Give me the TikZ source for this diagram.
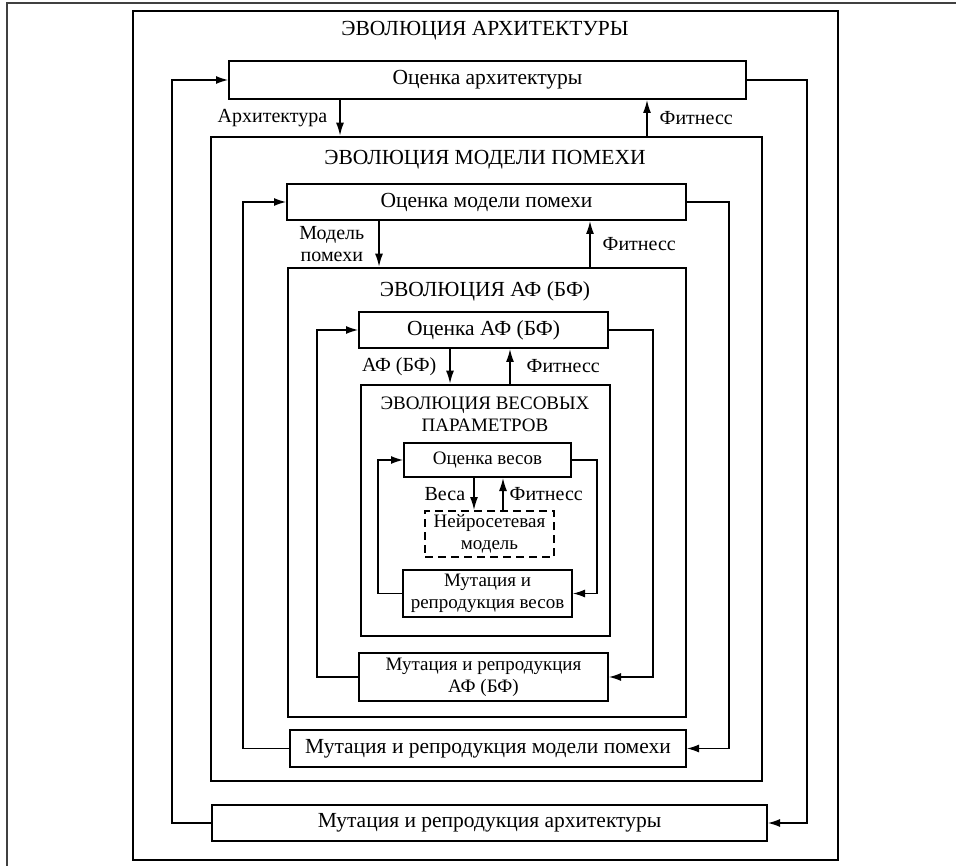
\documentclass[tikz,border=0pt]{standalone}
\usepackage{fontspec}
\setmainfont{Liberation Serif}
\usetikzlibrary{arrows.meta}
\begin{document}
\begin{tikzpicture}[x=1pt, y=-1pt,
    every node/.style={font=\fontsize{20}{22}\selectfont, inner sep=0pt, align=center},
    bigtext/.style={font=\fontsize{21.5}{23}\selectfont},
    smalltext/.style={font=\fontsize{19}{22}\selectfont},
    evobox/.style={draw, line width=2.8pt},
    stepbox/.style={draw, line width=2pt},
    nnbox/.style={draw, line width=2pt, dash pattern=on 8pt off 5pt},
    arr/.style={line width=1.4pt, -{Latex[length=13pt,width=8pt]}},
    back/.style={line width=1.2pt, -{Latex[length=12pt,width=8pt]}}]
    \useasboundingbox (0,0) rectangle (956,866);
    \draw[line width=1.7pt, black!75] (956,3) -- (7,3) -- (7,866);
    % containers
    \node[evobox, minimum width=705, minimum height=849] (evoarch) at (485.5,435.5) {};
    \node[evobox, minimum width=551, minimum height=644] (evonoise) at (486.5,459) {};
    \node[evobox, minimum width=398, minimum height=449] (evoaf) at (487,492.5) {};
    \node[evobox, minimum width=249, minimum height=251] (evow) at (485.5,510.5) {};
    \node[bigtext] (ttlarch) at (485,31) {ЭВОЛЮЦИЯ АРХИТЕКТУРЫ};
    \node[bigtext] (ttlnoise) at (485,160) {ЭВОЛЮЦИЯ МОДЕЛИ ПОМЕХИ};
    \node[bigtext] (ttlaf) at (485,291) {ЭВОЛЮЦИЯ АФ (БФ)};
    \node[smalltext] (ttlw) at (485,414) {ЭВОЛЮЦИЯ ВЕСОВЫХ\\ПАРАМЕТРОВ};
    % steps
    \node[stepbox, bigtext, minimum width=517, minimum height=38] (archeval) at (487.5,80) {Оценка архитектуры};
    \node[stepbox, bigtext, minimum width=555, minimum height=36] (archmut) at (489.5,823) {Мутация и репродукция архитектуры};
    \node[stepbox, bigtext, minimum width=399, minimum height=36] (noiseeval) at (486.5,202) {Оценка модели помехи};
    \node[stepbox, bigtext, minimum width=396, minimum height=37] (noisemut) at (488,748.5) {Мутация и репродукция модели помехи};
    \node[stepbox, bigtext, minimum width=249, minimum height=36] (afeval) at (483.5,330) {Оценка АФ (БФ)};
    \node[stepbox, smalltext, minimum width=249, minimum height=48] (afmut) at (483.5,677) {Мутация и репродукция\\АФ (БФ)};
    \node[stepbox, smalltext, minimum width=167, minimum height=34] (weval) at (487.5,460) {Оценка весов};
    \node[nnbox, smalltext, minimum width=129, minimum height=46] (nn) at (489.5,534) {Нейросетевая\\модель};
    \node[stepbox, smalltext, minimum width=169, minimum height=47] (wmut) at (487.5,593.5) {Мутация и\\репродукция весов};
    % data and fitness
    \draw[arr] (archeval.south -| 340,0) -- node[left=12pt] (lblarch) {Архитектура} (evonoise.north -| 340,0);
    \draw[arr] (evonoise.north -| 647,0) -- node[right=12pt] (fitarch) {Фитнесс} (archeval.south -| 647,0);
    \draw[arr] (noiseeval.south -| 379,0) -- node[left=14pt] (lblnoise) {Модель\\помехи} (evoaf.north -| 379,0);
    \draw[arr] (evoaf.north -| 590,0) -- node[right=12pt] (fitnoise) {Фитнесс} (noiseeval.south -| 590,0);
    \draw[arr] (afeval.south -| 450,0) -- node[left=13pt] (lblaf) {АФ (БФ)} (evow.north -| 450,0);
    \draw[arr] (evow.north -| 510,0) -- node[right=16pt] (fitaf) {Фитнесс} (afeval.south -| 510,0);
    \draw[arr] (weval.south -| 474,0) -- node[left=8pt] (lblw) {Веса} (nn.north -| 474,0);
    \draw[arr] (nn.north -| 503,0) -- node[right=6pt] (fitw) {Фитнесс} (weval.south -| 503,0);
    % loops
    \draw[back] (archmut.west) -- ++(-39,0) |- (archeval.west);
    \draw[back] (archeval.east) -- ++(60,0) |- (archmut.east);
    \draw[back] (noisemut.west) -- ++(-46,0) |- (noiseeval.west);
    \draw[back] (noiseeval.east) -- ++(42,0) |- (noisemut.east);
    \draw[back] (afmut.west) -- ++(-41,0) |- (afeval.west);
    \draw[back] (afeval.east) -- ++(44,0) |- (afmut.east);
    \draw[back] (wmut.west) -- ++(-24,0) |- (weval.west);
    \draw[back] (weval.east) -- ++(25,0) |- (wmut.east);
\end{tikzpicture}
\end{document}
